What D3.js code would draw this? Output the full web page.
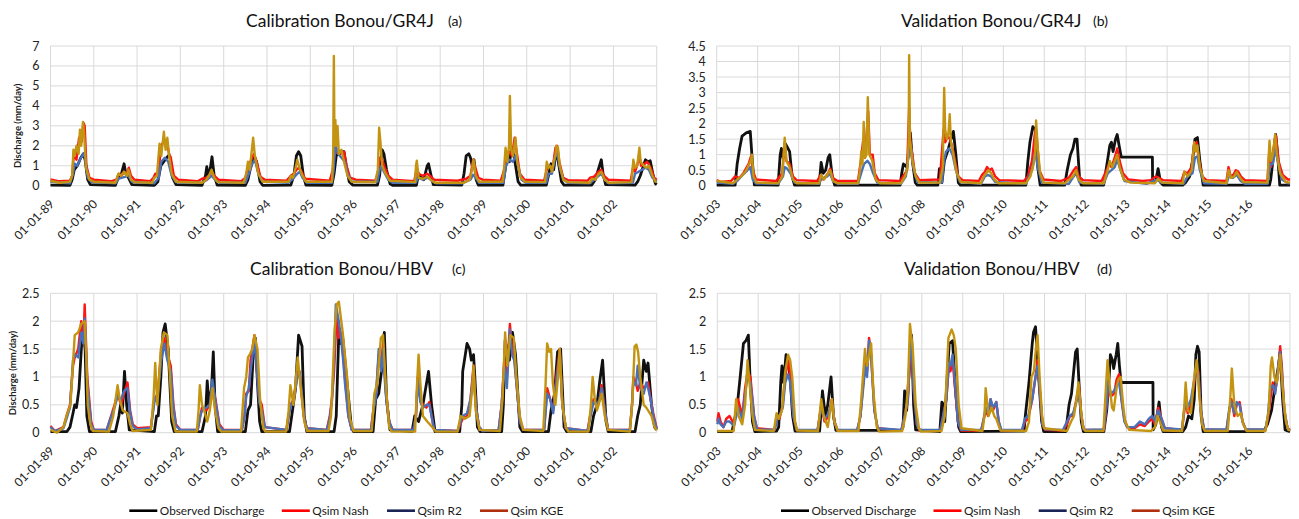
<!DOCTYPE html>
<html>
<head>
<meta charset="utf-8">
<script src="https://cdnjs.cloudflare.com/ajax/libs/d3/7.8.5/d3.min.js"></script>
<style>
  body { margin: 0; background: #fff; }
  svg { display: block; font-family: Lato, "Open Sans", sans-serif; }
</style>
</head>
<body>
<svg id="chart" width="1299" height="519"></svg>
<script>
// [decimal year, discharge mm/day]

// (a) Calibration GR4J
const obsA = [[1989.0,0.03],[1989.45,0.02],[1989.5,0.3],[1989.55,0.8],[1989.62,1.0],[1989.7,1.4],[1989.76,1.6],[1989.8,1.3],[1989.86,0.3],[1989.92,0.05],
  [1990.5,0.02],[1990.58,0.5],[1990.64,0.6],[1990.7,1.1],[1990.74,0.6],[1990.8,0.4],[1990.88,0.05],
  [1991.4,0.02],[1991.48,0.2],[1991.55,1.0],[1991.65,1.3],[1991.72,1.5],[1991.76,1.45],[1991.82,0.4],[1991.9,0.05],
  [1992.5,0.02],[1992.58,0.5],[1992.61,0.95],[1992.66,0.4],[1992.73,1.45],[1992.78,0.5],[1992.85,0.03],
  [1993.5,0.02],[1993.56,0.3],[1993.62,0.9],[1993.7,1.5],[1993.76,1.2],[1993.84,0.2],[1993.9,0.02],
  [1994.55,0.03],[1994.62,0.5],[1994.68,1.5],[1994.73,1.7],[1994.78,1.5],[1994.84,0.5],[1994.9,0.03],
  [1995.5,0.02],[1995.55,0.6],[1995.6,1.5],[1995.68,1.7],[1995.78,1.7],[1995.83,1.0],[1995.9,0.2],[1995.98,0.03],
  [1996.55,0.03],[1996.6,0.5],[1996.66,1.8],[1996.7,1.6],[1996.76,0.8],[1996.84,0.1],[1996.9,0.02],
  [1997.45,0.02],[1997.5,0.6],[1997.56,0.4],[1997.62,0.3],[1997.7,1.0],[1997.73,1.1],[1997.78,0.6],[1997.84,0.05],
  [1998.5,0.03],[1998.55,0.6],[1998.6,1.5],[1998.66,1.6],[1998.7,1.4],[1998.74,1.0],[1998.78,1.3],[1998.83,0.3],[1998.88,0.03],
  [1999.45,0.03],[1999.5,0.8],[1999.56,1.6],[1999.6,1.2],[1999.66,1.9],[1999.72,1.3],[1999.8,0.2],[1999.86,0.03],
  [2000.45,0.03],[2000.52,0.7],[2000.56,1.1],[2000.62,0.8],[2000.68,1.8],[2000.72,1.3],[2000.8,0.2],[2000.86,0.03],
  [2001.5,0.03],[2001.58,0.3],[2001.65,0.8],[2001.72,1.3],[2001.76,0.6],[2001.82,0.05],
  [2002.5,0.03],[2002.56,0.2],[2002.62,0.5],[2002.68,0.9],[2002.74,1.3],[2002.8,1.2],[2002.85,1.25],[2002.92,0.5],[2002.97,0.1],[2003.0,0.05]];
const nashA = [[1989.0,0.32],[1989.2,0.22],[1989.45,0.25],[1989.5,0.5],[1989.54,1.6],[1989.6,1.3],[1989.66,2.4],[1989.72,2.2],[1989.76,3.15],[1989.79,3.0],[1989.83,1.0],[1989.9,0.4],[1990.0,0.3],
  [1990.4,0.22],[1990.52,0.3],[1990.58,0.6],[1990.64,0.5],[1990.7,0.7],[1990.76,0.6],[1990.81,0.9],[1990.86,0.5],[1990.94,0.3],
  [1991.3,0.22],[1991.38,0.4],[1991.42,0.6],[1991.5,0.6],[1991.55,2.0],[1991.62,2.2],[1991.68,2.3],[1991.74,1.6],[1991.78,1.4],[1991.85,0.5],[1991.95,0.3],
  [1992.4,0.22],[1992.5,0.35],[1992.6,0.4],[1992.66,0.5],[1992.72,0.7],[1992.78,0.5],[1992.88,0.3],
  [1993.4,0.22],[1993.5,0.4],[1993.56,0.9],[1993.64,1.3],[1993.7,1.6],[1993.76,1.2],[1993.85,0.45],[1993.95,0.3],
  [1994.45,0.25],[1994.55,0.5],[1994.62,0.6],[1994.68,0.8],[1994.74,0.9],[1994.8,0.7],[1994.88,0.35],
  [1995.45,0.25],[1995.52,0.8],[1995.56,1.6],[1995.62,1.7],[1995.7,1.6],[1995.78,1.7],[1995.84,1.0],[1995.92,0.4],[1996.05,0.3],
  [1996.5,0.25],[1996.56,0.6],[1996.6,1.4],[1996.66,1.3],[1996.72,0.9],[1996.8,0.5],[1996.9,0.3],
  [1997.4,0.22],[1997.46,0.9],[1997.5,0.6],[1997.6,0.5],[1997.7,0.6],[1997.76,0.5],[1997.86,0.3],
  [1998.4,0.25],[1998.6,0.35],[1998.7,0.5],[1998.76,1.3],[1998.8,1.0],[1998.88,0.4],[1998.98,0.3],
  [1999.4,0.25],[1999.48,0.8],[1999.54,1.6],[1999.6,1.7],[1999.66,1.5],[1999.72,2.4],[1999.76,1.8],[1999.84,0.6],[1999.95,0.3],
  [2000.4,0.25],[2000.46,0.8],[2000.52,1.0],[2000.6,0.9],[2000.66,1.9],[2000.7,2.0],[2000.75,1.2],[2000.84,0.4],[2000.95,0.28],
  [2001.4,0.25],[2001.46,0.4],[2001.55,0.45],[2001.65,0.7],[2001.72,0.8],[2001.78,0.5],[2001.88,0.3],
  [2002.4,0.25],[2002.45,0.9],[2002.5,0.7],[2002.56,1.1],[2002.6,1.5],[2002.64,1.0],[2002.72,1.1],[2002.78,1.2],[2002.86,0.9],[2002.94,0.4],[2003.0,0.3]];
const r2A = [[1989.0,0.2],[1989.45,0.12],[1989.52,0.6],[1989.56,1.1],[1989.62,1.0],[1989.68,1.3],[1989.76,1.6],[1989.8,1.4],[1989.86,0.4],[1989.95,0.18],
  [1990.5,0.12],[1990.58,0.35],[1990.66,0.4],[1990.74,0.45],[1990.8,0.5],[1990.88,0.2],
  [1991.4,0.12],[1991.5,0.4],[1991.56,1.2],[1991.64,1.4],[1991.72,1.2],[1991.8,0.5],[1991.9,0.18],
  [1992.5,0.15],[1992.62,0.3],[1992.72,0.5],[1992.8,0.3],[1992.9,0.15],
  [1993.5,0.15],[1993.58,0.6],[1993.66,1.1],[1993.72,1.3],[1993.8,0.6],[1993.9,0.2],
  [1994.5,0.15],[1994.6,0.35],[1994.7,0.6],[1994.76,0.7],[1994.82,0.4],[1994.92,0.15],
  [1995.5,0.15],[1995.54,0.8],[1995.58,2.1],[1995.64,1.6],[1995.72,1.4],[1995.8,1.2],[1995.86,0.6],[1995.96,0.2],
  [1996.55,0.2],[1996.6,0.8],[1996.64,1.0],[1996.7,0.7],[1996.8,0.3],[1996.9,0.15],
  [1997.44,0.15],[1997.48,0.4],[1997.6,0.3],[1997.72,0.4],[1997.8,0.25],[1997.9,0.12],
  [1998.5,0.12],[1998.7,0.3],[1998.76,0.55],[1998.82,0.4],[1998.9,0.15],
  [1999.46,0.15],[1999.52,1.0],[1999.6,1.3],[1999.68,1.2],[1999.74,1.5],[1999.8,1.0],[1999.88,0.3],[1999.98,0.15],
  [2000.45,0.15],[2000.5,0.6],[2000.58,0.6],[2000.66,1.5],[2000.7,1.7],[2000.76,0.9],[2000.85,0.3],[2000.95,0.15],
  [2001.45,0.12],[2001.55,0.3],[2001.66,0.5],[2001.72,0.6],[2001.8,0.3],[2001.9,0.12],
  [2002.45,0.15],[2002.5,0.6],[2002.58,0.7],[2002.66,0.8],[2002.74,0.9],[2002.82,0.8],[2002.9,0.4],[2003.0,0.2]];
const kgeA = [[1989.0,0.25],[1989.2,0.15],[1989.45,0.2],[1989.5,0.5],[1989.53,1.8],[1989.56,1.5],[1989.6,2.0],[1989.65,1.6],[1989.68,2.8],[1989.71,2.0],[1989.75,3.2],[1989.78,2.5],[1989.82,0.9],[1989.9,0.3],[1990.0,0.2],
  [1990.5,0.15],[1990.57,0.6],[1990.63,0.5],[1990.7,0.7],[1990.76,0.5],[1990.8,0.8],[1990.86,0.3],[1990.95,0.18],
  [1991.35,0.15],[1991.4,0.4],[1991.46,0.5],[1991.52,2.1],[1991.56,1.5],[1991.62,2.7],[1991.66,1.8],[1991.7,2.4],[1991.74,1.5],[1991.8,0.6],[1991.9,0.2],
  [1992.5,0.15],[1992.6,0.3],[1992.66,0.5],[1992.72,0.8],[1992.78,0.4],[1992.86,0.18],
  [1993.46,0.15],[1993.52,0.6],[1993.56,1.2],[1993.6,0.8],[1993.66,2.0],[1993.68,2.4],[1993.72,1.5],[1993.8,0.6],[1993.9,0.2],
  [1994.5,0.2],[1994.55,0.5],[1994.6,0.4],[1994.66,0.9],[1994.7,1.3],[1994.75,0.9],[1994.82,0.5],[1994.9,0.2],
  [1995.5,0.2],[1995.53,1.5],[1995.545,6.5],[1995.56,2.0],[1995.58,3.3],[1995.6,2.0],[1995.63,3.0],[1995.66,1.6],[1995.72,1.8],[1995.78,1.2],[1995.86,0.5],[1995.96,0.2],
  [1996.5,0.18],[1996.56,0.8],[1996.59,2.9],[1996.62,2.2],[1996.66,1.0],[1996.74,0.6],[1996.84,0.25],
  [1997.42,0.18],[1997.44,1.0],[1997.46,1.25],[1997.5,0.4],[1997.6,0.35],[1997.7,0.45],[1997.78,0.3],[1997.88,0.15],
  [1998.55,0.15],[1998.68,0.3],[1998.74,0.9],[1998.77,1.3],[1998.82,0.5],[1998.9,0.2],
  [1999.44,0.2],[1999.48,1.0],[1999.51,1.9],[1999.55,1.2],[1999.59,2.0],[1999.61,4.5],[1999.64,1.8],[1999.68,1.5],[1999.74,2.4],[1999.78,1.2],[1999.86,0.4],[1999.96,0.2],
  [2000.42,0.18],[2000.46,1.2],[2000.5,0.9],[2000.54,1.0],[2000.58,0.7],[2000.62,1.2],[2000.66,1.5],[2000.68,2.0],[2000.72,1.9],[2000.76,1.0],[2000.84,0.3],[2000.95,0.18],
  [2001.45,0.15],[2001.5,0.35],[2001.58,0.3],[2001.66,0.6],[2001.72,0.7],[2001.8,0.3],[2001.9,0.15],
  [2002.42,0.18],[2002.46,1.3],[2002.5,0.9],[2002.55,1.0],[2002.6,1.9],[2002.63,1.2],[2002.7,1.0],[2002.76,0.9],[2002.82,1.0],[2002.9,0.5],[2002.97,0.2],[2003.0,0.18]];

// (b) Validation GR4J
const obsB = [[2003.0,0.02],[2003.45,0.02],[2003.5,0.7],[2003.56,1.2],[2003.62,1.6],[2003.72,1.7],[2003.82,1.75],[2003.87,0.8],[2003.92,0.03],
  [2004.5,0.02],[2004.55,1.0],[2004.58,1.2],[2004.62,0.9],[2004.68,1.35],[2004.74,1.2],[2004.78,1.1],[2004.84,0.3],[2004.9,0.02],
  [2005.5,0.02],[2005.55,0.75],[2005.6,0.4],[2005.66,0.5],[2005.72,0.9],[2005.76,1.0],[2005.82,0.3],[2005.88,0.02],
  [2007.48,0.02],[2007.52,0.4],[2007.56,0.7],[2007.64,0.6],[2007.7,1.2],[2007.73,1.7],[2007.78,0.8],[2007.85,0.1],[2007.9,0.02],
  [2008.4,0.02],[2008.44,0.55],[2008.48,0.5],[2008.5,0.1],[2008.56,0.8],[2008.66,1.2],[2008.74,1.6],[2008.78,1.75],[2008.84,1.0],[2008.9,0.1],[2008.95,0.02],
  [2010.55,0.02],[2010.6,0.8],[2010.65,1.4],[2010.72,1.9],[2010.78,1.8],[2010.84,0.6],[2010.9,0.02],
  [2011.5,0.02],[2011.56,0.5],[2011.64,1.0],[2011.7,1.2],[2011.75,1.5],[2011.8,1.5],[2011.86,0.3],[2011.9,0.02],
  [2012.45,0.02],[2012.52,0.6],[2012.6,1.3],[2012.64,1.4],[2012.68,1.1],[2012.74,1.5],[2012.78,1.65],[2012.84,1.2],[2012.88,0.92],[2013.64,0.92],[2013.645,0.1],[2013.72,0.15],[2013.78,0.55],[2013.84,0.1],[2013.9,0.02],
  [2014.38,0.02],[2014.45,0.1],[2014.55,0.3],[2014.62,0.8],[2014.68,1.5],[2014.74,1.55],[2014.8,0.8],[2014.88,0.02],
  [2016.5,0.02],[2016.53,0.2],[2016.6,1.0],[2016.65,1.65],[2016.7,1.0],[2016.75,0.02],[2017.0,0.02]];
const nashB = [[2003.0,0.18],[2003.1,0.12],[2003.35,0.15],[2003.45,0.3],[2003.55,0.25],[2003.65,0.4],[2003.78,0.7],[2003.84,0.95],[2003.88,0.5],[2003.96,0.2],
  [2004.45,0.15],[2004.6,0.4],[2004.66,1.4],[2004.7,0.8],[2004.78,0.7],[2004.86,0.3],[2004.95,0.18],
  [2005.45,0.15],[2005.54,0.35],[2005.6,0.2],[2005.72,0.4],[2005.77,0.55],[2005.84,0.25],[2005.95,0.15],
  [2006.45,0.15],[2006.52,0.8],[2006.58,1.5],[2006.62,0.9],[2006.7,2.4],[2006.74,1.0],[2006.81,1.0],[2006.86,0.4],[2006.95,0.18],
  [2007.48,0.15],[2007.55,0.3],[2007.65,0.5],[2007.7,2.5],[2007.73,1.4],[2007.78,1.0],[2007.84,0.4],[2007.95,0.18],
  [2008.45,0.2],[2008.54,1.8],[2008.58,1.4],[2008.64,1.6],[2008.7,1.5],[2008.76,1.2],[2008.82,0.8],[2008.9,0.3],[2009.0,0.18],
  [2009.4,0.15],[2009.48,0.35],[2009.55,0.45],[2009.6,0.6],[2009.66,0.5],[2009.72,0.55],[2009.8,0.3],[2009.9,0.18],
  [2010.5,0.15],[2010.6,0.3],[2010.7,0.8],[2010.78,1.8],[2010.82,1.5],[2010.88,0.5],[2010.98,0.2],
  [2011.4,0.15],[2011.6,0.25],[2011.72,0.5],[2011.78,0.6],[2011.84,0.3],[2011.95,0.18],
  [2012.4,0.15],[2012.52,0.5],[2012.58,0.7],[2012.64,0.6],[2012.72,0.9],[2012.78,1.2],[2012.84,0.8],[2012.92,0.4],[2013.05,0.2],
  [2013.4,0.15],[2013.6,0.18],[2013.72,0.3],[2013.8,0.25],[2013.9,0.18],
  [2014.35,0.15],[2014.42,0.45],[2014.5,0.4],[2014.6,0.6],[2014.66,1.35],[2014.72,1.4],[2014.78,0.8],[2014.86,0.3],[2014.96,0.18],
  [2015.45,0.15],[2015.5,0.6],[2015.55,0.3],[2015.62,0.35],[2015.68,0.5],[2015.74,0.45],[2015.8,0.3],[2015.9,0.18],
  [2016.45,0.15],[2016.5,1.2],[2016.54,0.6],[2016.58,1.0],[2016.63,1.5],[2016.66,1.6],[2016.72,0.8],[2016.82,0.35],[2016.95,0.2],[2017.0,0.2]];
const r2B = [[2003.0,0.1],[2003.4,0.06],[2003.5,0.15],[2003.6,0.3],[2003.72,0.45],[2003.82,0.6],[2003.88,0.2],[2003.96,0.07],
  [2004.5,0.06],[2004.62,0.3],[2004.66,0.6],[2004.72,0.55],[2004.8,0.4],[2004.9,0.1],
  [2005.5,0.06],[2005.55,0.2],[2005.7,0.3],[2005.76,0.4],[2005.84,0.15],[2005.95,0.06],
  [2006.45,0.06],[2006.55,0.5],[2006.6,0.7],[2006.68,0.8],[2006.74,0.7],[2006.82,0.4],[2006.92,0.1],
  [2007.5,0.06],[2007.62,0.3],[2007.7,1.1],[2007.74,1.3],[2007.8,0.6],[2007.9,0.12],
  [2008.5,0.1],[2008.55,0.8],[2008.6,1.1],[2008.68,1.2],[2008.76,1.0],[2008.84,0.5],[2008.94,0.12],
  [2009.45,0.06],[2009.55,0.3],[2009.62,0.35],[2009.7,0.3],[2009.8,0.12],
  [2010.55,0.06],[2010.7,0.5],[2010.78,1.1],[2010.84,0.6],[2010.94,0.1],
  [2011.6,0.06],[2011.72,0.3],[2011.78,0.4],[2011.86,0.1],
  [2012.45,0.06],[2012.55,0.4],[2012.64,0.5],[2012.72,0.6],[2012.78,0.85],[2012.86,0.5],[2012.96,0.15],
  [2013.5,0.06],[2013.75,0.2],[2013.85,0.1],
  [2014.4,0.06],[2014.5,0.3],[2014.62,0.4],[2014.68,0.9],[2014.74,0.95],[2014.8,0.5],[2014.9,0.08],
  [2015.45,0.06],[2015.52,0.35],[2015.6,0.25],[2015.7,0.35],[2015.8,0.15],[2015.9,0.06],
  [2016.45,0.06],[2016.52,0.7],[2016.58,0.7],[2016.65,1.2],[2016.7,0.8],[2016.8,0.2],[2016.95,0.08],[2017.0,0.08]];
const kgeB = [[2003.0,0.15],[2003.4,0.08],[2003.5,0.2],[2003.6,0.3],[2003.7,0.45],[2003.76,0.6],[2003.83,0.8],[2003.86,1.0],[2003.9,0.3],[2003.97,0.1],
  [2004.5,0.08],[2004.6,0.3],[2004.66,1.55],[2004.7,0.8],[2004.78,0.6],[2004.86,0.2],[2004.95,0.08],
  [2005.5,0.08],[2005.55,0.35],[2005.62,0.2],[2005.72,0.4],[2005.77,0.5],[2005.84,0.15],[2005.95,0.08],
  [2006.45,0.08],[2006.5,0.5],[2006.53,1.1],[2006.56,0.7],[2006.59,2.05],[2006.62,0.9],[2006.66,1.0],[2006.69,2.85],[2006.73,1.0],[2006.8,0.8],[2006.88,0.2],[2006.98,0.08],
  [2007.5,0.08],[2007.6,0.3],[2007.66,0.6],[2007.69,1.5],[2007.7,4.2],[2007.72,1.5],[2007.78,0.8],[2007.86,0.3],[2007.95,0.1],
  [2008.45,0.1],[2008.52,0.6],[2008.555,3.15],[2008.58,1.8],[2008.62,1.5],[2008.66,1.7],[2008.69,2.3],[2008.72,1.4],[2008.78,1.0],[2008.86,0.4],[2008.96,0.12],
  [2009.45,0.08],[2009.52,0.3],[2009.58,0.4],[2009.64,0.5],[2009.7,0.4],[2009.78,0.2],[2009.88,0.08],
  [2010.55,0.08],[2010.66,0.3],[2010.74,0.7],[2010.78,1.1],[2010.8,2.1],[2010.84,1.2],[2010.9,0.4],[2010.98,0.1],
  [2011.5,0.08],[2011.7,0.3],[2011.78,0.5],[2011.84,0.2],[2011.95,0.08],
  [2012.45,0.08],[2012.55,0.5],[2012.6,0.8],[2012.66,0.6],[2012.72,0.8],[2012.78,1.0],[2012.84,0.6],[2012.94,0.2],[2013.1,0.1],
  [2013.7,0.08],[2013.78,0.22],[2013.88,0.1],
  [2014.38,0.08],[2014.42,0.45],[2014.5,0.3],[2014.6,0.5],[2014.66,1.4],[2014.7,1.1],[2014.74,1.3],[2014.8,0.6],[2014.9,0.15],
  [2015.45,0.08],[2015.5,0.5],[2015.56,0.25],[2015.64,0.3],[2015.7,0.45],[2015.76,0.3],[2015.86,0.12],
  [2016.45,0.1],[2016.5,1.45],[2016.54,0.8],[2016.58,1.0],[2016.61,1.3],[2016.64,1.65],[2016.68,1.0],[2016.76,0.4],[2016.9,0.12],[2017.0,0.1]];

// (c) Calibration HBV
const obsC = [[1989.0,0.02],[1989.38,0.02],[1989.45,0.1],[1989.52,0.35],[1989.56,0.5],[1989.6,0.45],[1989.66,0.8],[1989.72,1.6],[1989.76,1.75],[1989.8,1.5],[1989.84,0.3],[1989.9,0.02],
  [1990.5,0.02],[1990.58,0.3],[1990.62,0.5],[1990.66,0.35],[1990.71,1.1],[1990.76,0.5],[1990.82,0.05],
  [1991.4,0.02],[1991.45,0.3],[1991.49,0.3],[1991.55,1.0],[1991.6,1.8],[1991.65,1.95],[1991.72,1.5],[1991.8,0.2],[1991.86,0.02],
  [1992.5,0.02],[1992.58,0.3],[1992.62,0.93],[1992.66,0.5],[1992.72,0.8],[1992.76,1.45],[1992.8,0.5],[1992.86,0.02],
  [1993.5,0.02],[1993.56,0.4],[1993.62,0.5],[1993.69,1.5],[1993.73,1.7],[1993.78,0.9],[1993.83,0.2],[1993.88,0.02],
  [1994.52,0.02],[1994.59,0.4],[1994.66,0.8],[1994.73,1.75],[1994.81,1.55],[1994.86,0.3],[1994.92,0.02],
  [1995.55,0.02],[1995.6,0.3],[1995.66,1.8],[1995.7,1.6],[1995.75,1.7],[1995.8,1.3],[1995.85,0.9],[1995.95,0.1],[1996.0,0.02],
  [1996.45,0.02],[1996.51,0.6],[1996.58,0.7],[1996.66,1.2],[1996.71,1.8],[1996.76,0.6],[1996.84,0.05],
  [1997.35,0.02],[1997.41,0.3],[1997.5,0.2],[1997.6,0.5],[1997.73,1.1],[1997.8,0.5],[1997.88,0.02],
  [1998.45,0.02],[1998.5,0.5],[1998.52,1.1],[1998.62,1.6],[1998.68,1.5],[1998.72,1.3],[1998.77,1.4],[1998.8,1.0],[1998.86,0.1],[1998.92,0.02],
  [1999.42,0.02],[1999.46,0.5],[1999.5,1.65],[1999.6,1.3],[1999.67,1.8],[1999.74,1.4],[1999.84,0.1],[1999.9,0.02],
  [2000.5,0.02],[2000.56,0.4],[2000.64,0.7],[2000.71,1.45],[2000.78,1.5],[2000.86,0.1],[2000.92,0.02],
  [2001.48,0.02],[2001.54,0.3],[2001.62,0.5],[2001.68,0.9],[2001.75,1.3],[2001.83,0.2],[2001.88,0.02],
  [2002.5,0.02],[2002.56,0.3],[2002.62,0.5],[2002.7,1.3],[2002.76,1.1],[2002.8,1.25],[2002.88,0.5],[2002.95,0.1],[2003.0,0.05]];
const nashC = [[1989.0,0.12],[1989.1,0.03],[1989.3,0.1],[1989.37,0.3],[1989.45,0.5],[1989.52,1.2],[1989.56,1.35],[1989.64,1.5],[1989.71,2.0],[1989.76,1.6],[1989.79,2.3],[1989.85,1.0],[1989.94,0.2],[1990.0,0.05],
  [1990.3,0.05],[1990.36,0.2],[1990.48,0.5],[1990.55,0.7],[1990.63,0.5],[1990.7,0.7],[1990.78,0.9],[1990.84,0.4],[1990.9,0.15],[1991.0,0.08],
  [1991.32,0.1],[1991.4,0.6],[1991.48,0.7],[1991.56,1.5],[1991.63,1.7],[1991.7,1.4],[1991.78,1.2],[1991.84,0.5],[1991.9,0.15],[1992.0,0.05],
  [1992.4,0.05],[1992.46,0.3],[1992.5,0.45],[1992.6,0.4],[1992.68,0.5],[1992.74,0.85],[1992.81,0.6],[1992.9,0.15],[1993.0,0.05],
  [1993.42,0.05],[1993.48,0.3],[1993.52,0.7],[1993.58,0.75],[1993.62,1.3],[1993.71,1.75],[1993.76,1.2],[1993.82,0.6],[1993.88,0.5],[1993.95,0.1],
  [1994.45,0.05],[1994.5,0.3],[1994.54,0.5],[1994.62,0.6],[1994.69,1.0],[1994.75,1.1],[1994.8,0.7],[1994.85,0.3],[1994.92,0.08],
  [1995.38,0.05],[1995.45,0.3],[1995.5,0.6],[1995.55,1.1],[1995.61,2.1],[1995.66,1.7],[1995.71,1.8],[1995.76,1.4],[1995.8,1.0],[1995.88,0.3],[1995.96,0.05],
  [1996.4,0.05],[1996.47,0.5],[1996.52,0.7],[1996.58,1.4],[1996.64,1.2],[1996.68,1.6],[1996.74,0.8],[1996.82,0.2],[1996.9,0.05],
  [1997.38,0.05],[1997.44,0.3],[1997.48,1.0],[1997.54,0.6],[1997.6,0.5],[1997.68,0.45],[1997.75,0.55],[1997.8,0.3],[1997.86,0.05],
  [1998.4,0.03],[1998.52,0.25],[1998.62,0.3],[1998.7,0.6],[1998.77,1.2],[1998.82,0.5],[1998.9,0.1],[1998.98,0.03],
  [1999.35,0.05],[1999.42,0.5],[1999.48,1.3],[1999.54,1.0],[1999.61,1.95],[1999.66,1.5],[1999.71,1.4],[1999.76,0.9],[1999.84,0.2],[1999.92,0.05],
  [2000.4,0.05],[2000.47,0.8],[2000.54,0.6],[2000.61,0.4],[2000.68,1.0],[2000.76,1.5],[2000.82,0.5],[2000.9,0.08],
  [2001.4,0.03],[2001.46,0.3],[2001.54,0.6],[2001.62,0.45],[2001.68,0.6],[2001.73,0.85],[2001.8,0.4],[2001.88,0.05],
  [2002.38,0.05],[2002.43,0.5],[2002.46,1.0],[2002.52,0.9],[2002.56,0.75],[2002.62,0.9],[2002.7,0.8],[2002.76,0.85],[2002.8,0.9],[2002.86,0.6],[2002.92,0.35],[2003.0,0.08]];
const r2C = [[1989.0,0.1],[1989.1,0.03],[1989.3,0.08],[1989.37,0.25],[1989.45,0.45],[1989.52,1.3],[1989.56,1.4],[1989.64,1.35],[1989.71,1.8],[1989.76,1.6],[1989.79,2.05],[1989.85,0.9],[1989.94,0.15],[1990.0,0.05],
  [1990.3,0.05],[1990.36,0.2],[1990.48,0.45],[1990.55,0.65],[1990.63,0.6],[1990.7,0.75],[1990.78,0.8],[1990.84,0.35],[1990.9,0.12],[1991.0,0.06],
  [1991.32,0.08],[1991.4,0.55],[1991.48,0.7],[1991.56,1.3],[1991.63,1.6],[1991.7,1.3],[1991.78,1.1],[1991.84,0.45],[1991.9,0.12],[1992.0,0.05],
  [1992.4,0.05],[1992.46,0.3],[1992.5,0.4],[1992.6,0.45],[1992.68,0.5],[1992.74,0.95],[1992.81,0.55],[1992.9,0.12],[1993.0,0.04],
  [1993.42,0.05],[1993.48,0.3],[1993.52,0.65],[1993.58,0.8],[1993.62,1.1],[1993.71,1.65],[1993.76,1.2],[1993.82,0.55],[1993.88,0.4],[1993.95,0.1],
  [1994.45,0.05],[1994.5,0.3],[1994.54,0.45],[1994.62,0.6],[1994.69,0.95],[1994.75,1.1],[1994.8,0.75],[1994.85,0.3],[1994.92,0.08],
  [1995.38,0.05],[1995.45,0.25],[1995.5,0.55],[1995.55,1.3],[1995.59,2.3],[1995.66,2.0],[1995.71,1.7],[1995.76,1.3],[1995.8,0.9],[1995.88,0.3],[1995.96,0.05],
  [1996.4,0.05],[1996.47,0.45],[1996.52,0.65],[1996.58,1.5],[1996.64,1.1],[1996.68,1.5],[1996.74,0.7],[1996.82,0.2],[1996.9,0.05],
  [1997.38,0.05],[1997.44,0.3],[1997.48,0.95],[1997.54,0.55],[1997.6,0.45],[1997.68,0.5],[1997.75,0.5],[1997.8,0.3],[1997.86,0.05],
  [1998.4,0.03],[1998.52,0.3],[1998.62,0.35],[1998.7,0.6],[1998.77,1.1],[1998.82,0.5],[1998.9,0.1],[1998.98,0.03],
  [1999.35,0.05],[1999.42,0.5],[1999.48,1.2],[1999.54,0.8],[1999.61,1.85],[1999.66,1.4],[1999.71,1.3],[1999.76,0.9],[1999.84,0.2],[1999.92,0.05],
  [2000.4,0.05],[2000.47,0.7],[2000.54,0.6],[2000.61,0.35],[2000.68,0.9],[2000.76,1.45],[2000.82,0.5],[2000.9,0.08],
  [2001.4,0.03],[2001.46,0.25],[2001.54,0.55],[2001.62,0.5],[2001.68,0.6],[2001.73,0.8],[2001.8,0.4],[2001.88,0.05],
  [2002.38,0.05],[2002.43,0.5],[2002.46,0.9],[2002.52,0.85],[2002.56,1.2],[2002.62,0.8],[2002.7,0.7],[2002.76,0.9],[2002.8,0.8],[2002.86,0.6],[2002.92,0.3],[2003.0,0.06]];
const kgeC = [[1989.0,0.05],[1989.15,0.0],[1989.3,0.1],[1989.37,0.3],[1989.46,0.5],[1989.5,1.0],[1989.56,1.75],[1989.64,1.8],[1989.71,1.95],[1989.79,2.0],[1989.83,1.3],[1989.86,0.5],[1989.92,0.15],[1989.98,0.03],
  [1990.35,0.02],[1990.45,0.3],[1990.55,0.85],[1990.6,0.6],[1990.67,0.4],[1990.78,0.35],[1990.84,0.15],[1990.9,0.03],
  [1991.32,0.05],[1991.38,0.6],[1991.42,1.25],[1991.47,0.5],[1991.55,1.5],[1991.62,1.8],[1991.7,1.75],[1991.76,1.0],[1991.81,0.3],[1991.89,0.02],
  [1992.38,0.02],[1992.42,0.4],[1992.45,0.85],[1992.5,0.5],[1992.55,0.4],[1992.62,0.2],[1992.68,0.4],[1992.74,0.8],[1992.8,0.4],[1992.88,0.08],[1992.94,0.02],
  [1993.4,0.02],[1993.47,0.8],[1993.52,1.0],[1993.56,1.35],[1993.6,1.4],[1993.66,1.5],[1993.71,1.75],[1993.78,1.5],[1993.84,0.6],[1993.91,0.1],[1993.96,0.02],
  [1994.44,0.02],[1994.5,0.4],[1994.54,0.85],[1994.61,0.5],[1994.66,0.9],[1994.71,1.35],[1994.78,0.8],[1994.86,0.2],[1994.93,0.03],
  [1995.42,0.03],[1995.48,0.3],[1995.53,1.2],[1995.56,1.8],[1995.61,2.3],[1995.66,2.35],[1995.75,1.8],[1995.85,1.0],[1995.92,0.25],[1996.0,0.03],
  [1996.42,0.03],[1996.48,0.7],[1996.55,0.9],[1996.63,1.7],[1996.68,1.75],[1996.74,0.9],[1996.82,0.1],[1996.88,0.02],
  [1997.42,0.02],[1997.46,0.8],[1997.5,1.4],[1997.54,0.9],[1997.6,0.3],[1997.7,0.2],[1997.84,0.08],[1997.9,0.02],
  [1998.4,0.02],[1998.47,0.3],[1998.57,0.25],[1998.68,0.3],[1998.74,0.8],[1998.77,1.2],[1998.82,0.4],[1998.91,0.05],
  [1999.38,0.03],[1999.44,0.6],[1999.5,1.8],[1999.55,1.2],[1999.62,1.75],[1999.7,1.7],[1999.76,1.0],[1999.84,0.3],[1999.92,0.05],
  [2000.38,0.03],[2000.43,0.8],[2000.47,1.6],[2000.52,1.45],[2000.56,1.5],[2000.6,0.9],[2000.66,0.5],[2000.72,1.0],[2000.76,1.5],[2000.82,0.5],[2000.9,0.1],[2000.96,0.02],
  [2001.42,0.02],[2001.48,0.5],[2001.52,1.0],[2001.57,0.6],[2001.62,0.4],[2001.73,0.7],[2001.8,0.3],[2001.88,0.05],
  [2002.38,0.02],[2002.44,0.6],[2002.49,1.55],[2002.53,1.58],[2002.57,1.45],[2002.62,1.0],[2002.7,0.5],[2002.76,0.45],[2002.8,0.4],[2002.88,0.3],[2002.95,0.1],[2003.0,0.04]];

// (d) Validation HBV
const obsD = [[2003.0,0.02],[2003.36,0.02],[2003.44,0.3],[2003.49,0.5],[2003.56,1.0],[2003.64,1.6],[2003.7,1.65],[2003.76,1.75],[2003.8,1.0],[2003.86,0.2],[2003.92,0.02],
  [2004.45,0.03],[2004.5,0.1],[2004.55,0.9],[2004.58,1.2],[2004.62,0.9],[2004.68,1.4],[2004.74,1.2],[2004.78,1.0],[2004.84,0.3],[2004.9,0.03],
  [2005.5,0.03],[2005.57,0.75],[2005.64,0.3],[2005.7,0.5],[2005.78,1.0],[2005.84,0.3],[2005.9,0.04],[2007.5,0.04],
  [2007.54,0.1],[2007.58,0.75],[2007.63,0.4],[2007.7,1.2],[2007.75,1.75],[2007.8,0.5],[2007.85,0.05],
  [2008.44,0.02],[2008.49,0.55],[2008.53,0.5],[2008.56,0.2],[2008.62,1.0],[2008.67,1.6],[2008.75,1.65],[2008.82,0.8],[2008.9,0.1],[2008.95,0.02],
  [2010.5,0.03],[2010.53,0.3],[2010.62,0.9],[2010.7,1.6],[2010.73,1.8],[2010.78,1.9],[2010.84,1.2],[2010.93,0.2],[2010.98,0.02],
  [2011.52,0.02],[2011.6,0.5],[2011.66,0.7],[2011.7,1.0],[2011.76,1.45],[2011.8,1.5],[2011.85,0.8],[2011.9,0.2],[2011.95,0.02],
  [2012.45,0.02],[2012.52,0.4],[2012.58,1.0],[2012.61,1.4],[2012.66,1.3],[2012.69,1.15],[2012.75,1.4],[2012.79,1.6],[2012.83,1.2],[2012.87,0.9],[2013.65,0.9],[2013.655,0.05],[2013.72,0.15],[2013.8,0.55],[2013.86,0.1],[2013.9,0.02],
  [2014.38,0.02],[2014.45,0.1],[2014.52,0.3],[2014.6,0.25],[2014.66,0.6],[2014.7,1.4],[2014.74,1.55],[2014.78,1.45],[2014.83,0.3],[2014.88,0.02],
  [2016.35,0.02],[2016.45,0.15],[2016.55,0.4],[2016.65,0.9],[2016.72,1.2],[2016.76,1.45],[2016.82,0.6],[2016.88,0.05],[2017.0,0.02]];
const nashD = [[2003.0,0.2],[2003.03,0.35],[2003.08,0.2],[2003.15,0.1],[2003.22,0.25],[2003.3,0.3],[2003.41,0.15],[2003.51,0.6],[2003.61,0.3],[2003.68,0.8],[2003.74,1.1],[2003.81,1.0],[2003.9,0.3],[2003.97,0.08],
  [2004.4,0.05],[2004.47,0.3],[2004.52,0.25],[2004.6,0.5],[2004.66,1.0],[2004.73,1.35],[2004.78,1.0],[2004.86,0.3],[2004.94,0.05],
  [2005.45,0.04],[2005.54,0.5],[2005.62,0.2],[2005.72,0.3],[2005.8,0.6],[2005.86,0.2],[2005.94,0.04],
  [2006.42,0.04],[2006.5,0.3],[2006.58,1.0],[2006.62,1.3],[2006.66,1.1],[2006.71,1.7],[2006.76,1.4],[2006.84,0.4],[2006.92,0.08],
  [2007.5,0.04],[2007.58,0.3],[2007.66,0.6],[2007.7,1.2],[2007.74,1.6],[2007.8,0.8],[2007.88,0.15],[2007.95,0.04],
  [2008.45,0.04],[2008.52,0.3],[2008.6,0.6],[2008.66,1.2],[2008.7,1.1],[2008.75,1.3],[2008.8,0.9],[2008.88,0.2],[2008.96,0.04],
  [2009.45,0.04],[2009.5,0.2],[2009.56,0.4],[2009.62,0.3],[2009.68,0.6],[2009.74,0.4],[2009.82,0.55],[2009.88,0.2],[2009.94,0.04],
  [2010.45,0.04],[2010.52,0.2],[2010.6,0.25],[2010.7,0.6],[2010.78,1.0],[2010.83,1.3],[2010.88,0.8],[2010.95,0.15],[2011.02,0.05],
  [2011.45,0.04],[2011.55,0.15],[2011.62,0.3],[2011.7,0.3],[2011.78,0.6],[2011.84,0.85],[2011.9,0.3],[2011.96,0.05],
  [2012.45,0.05],[2012.52,0.5],[2012.56,0.8],[2012.62,0.65],[2012.7,0.7],[2012.76,0.95],[2012.82,1.05],[2012.88,0.6],[2012.95,0.25],[2013.02,0.1],
  [2013.2,0.08],[2013.33,0.15],[2013.45,0.12],[2013.55,0.2],[2013.63,0.25],[2013.7,0.15],[2013.78,0.45],[2013.86,0.25],[2013.94,0.08],
  [2014.36,0.05],[2014.42,0.4],[2014.45,0.6],[2014.5,0.35],[2014.58,0.5],[2014.66,0.9],[2014.72,1.15],[2014.76,1.1],[2014.82,0.4],[2014.9,0.06],
  [2015.45,0.05],[2015.52,0.4],[2015.57,0.6],[2015.64,0.3],[2015.7,0.5],[2015.77,0.55],[2015.84,0.2],[2015.92,0.06],
  [2016.4,0.05],[2016.46,0.25],[2016.52,0.6],[2016.58,0.9],[2016.64,0.75],[2016.7,1.0],[2016.76,1.55],[2016.8,1.2],[2016.86,0.4],[2016.94,0.08],[2017.0,0.05]];
const r2D = [[2003.0,0.15],[2003.03,0.25],[2003.08,0.15],[2003.15,0.1],[2003.22,0.2],[2003.3,0.2],[2003.41,0.12],[2003.51,0.45],[2003.61,0.25],[2003.68,0.7],[2003.74,1.0],[2003.81,0.9],[2003.9,0.3],[2003.97,0.06],
  [2004.4,0.05],[2004.47,0.25],[2004.52,0.3],[2004.6,0.45],[2004.66,0.9],[2004.73,1.05],[2004.78,0.9],[2004.86,0.3],[2004.94,0.05],
  [2005.45,0.05],[2005.54,0.45],[2005.62,0.25],[2005.72,0.35],[2005.8,0.55],[2005.86,0.2],[2005.94,0.05],
  [2006.42,0.05],[2006.5,0.3],[2006.58,0.9],[2006.62,1.2],[2006.66,1.0],[2006.71,1.65],[2006.76,1.35],[2006.84,0.4],[2006.92,0.08],
  [2007.5,0.05],[2007.58,0.3],[2007.66,0.6],[2007.7,1.3],[2007.74,1.7],[2007.8,0.8],[2007.88,0.15],[2007.95,0.05],
  [2008.45,0.05],[2008.52,0.3],[2008.6,0.6],[2008.66,1.25],[2008.7,1.2],[2008.75,1.4],[2008.8,1.0],[2008.88,0.2],[2008.96,0.05],
  [2009.45,0.05],[2009.5,0.2],[2009.56,0.45],[2009.62,0.35],[2009.68,0.6],[2009.74,0.45],[2009.82,0.55],[2009.88,0.2],[2009.94,0.05],
  [2010.45,0.05],[2010.52,0.25],[2010.6,0.3],[2010.7,0.6],[2010.78,1.0],[2010.83,1.2],[2010.88,0.8],[2010.95,0.15],[2011.02,0.06],
  [2011.45,0.05],[2011.55,0.2],[2011.62,0.3],[2011.7,0.35],[2011.78,0.55],[2011.84,0.7],[2011.9,0.3],[2011.96,0.05],
  [2012.45,0.06],[2012.52,0.55],[2012.56,0.9],[2012.62,0.7],[2012.7,0.75],[2012.76,0.85],[2012.82,0.9],[2012.88,0.6],[2012.95,0.2],[2013.02,0.1],
  [2013.2,0.1],[2013.33,0.2],[2013.45,0.15],[2013.55,0.25],[2013.63,0.3],[2013.7,0.2],[2013.78,0.4],[2013.86,0.25],[2013.94,0.08],
  [2014.36,0.06],[2014.42,0.45],[2014.45,0.55],[2014.5,0.45],[2014.58,0.6],[2014.66,0.95],[2014.72,1.15],[2014.76,1.05],[2014.82,0.4],[2014.9,0.06],
  [2015.45,0.06],[2015.52,0.45],[2015.57,0.55],[2015.64,0.35],[2015.7,0.55],[2015.77,0.5],[2015.84,0.2],[2015.92,0.06],
  [2016.4,0.06],[2016.46,0.3],[2016.52,0.8],[2016.58,0.85],[2016.64,0.7],[2016.7,1.1],[2016.76,1.45],[2016.8,1.1],[2016.86,0.4],[2016.94,0.08],[2017.0,0.05]];
const kgeD = [[2003.0,0.03],[2003.4,0.03],[2003.46,0.6],[2003.52,0.3],[2003.61,0.15],[2003.68,0.5],[2003.74,1.3],[2003.8,0.8],[2003.86,0.3],[2003.92,0.05],
  [2004.38,0.03],[2004.45,0.35],[2004.5,0.25],[2004.58,0.4],[2004.66,1.1],[2004.73,1.4],[2004.78,1.3],[2004.83,1.0],[2004.9,0.2],[2004.95,0.04],
  [2005.46,0.03],[2005.54,0.6],[2005.6,0.3],[2005.7,0.1],[2005.8,0.6],[2005.86,0.2],[2005.95,0.03],
  [2006.45,0.03],[2006.52,0.6],[2006.58,1.2],[2006.61,1.5],[2006.66,1.2],[2006.71,1.4],[2006.76,1.6],[2006.82,0.7],[2006.9,0.1],[2006.96,0.02],
  [2007.52,0.03],[2007.6,0.3],[2007.66,0.8],[2007.71,1.95],[2007.75,1.7],[2007.78,1.5],[2007.85,0.5],[2007.93,0.08],[2007.98,0.02],
  [2008.48,0.03],[2008.56,0.3],[2008.6,0.9],[2008.65,1.7],[2008.73,1.85],[2008.78,1.75],[2008.83,1.5],[2008.9,0.5],[2008.97,0.08],
  [2009.48,0.03],[2009.53,0.3],[2009.56,0.8],[2009.63,0.3],[2009.71,0.45],[2009.77,0.3],[2009.82,0.25],[2009.92,0.04],
  [2010.55,0.03],[2010.62,0.2],[2010.68,1.0],[2010.74,1.1],[2010.8,1.6],[2010.83,1.75],[2010.88,1.0],[2010.94,0.3],[2010.99,0.08],
  [2011.55,0.03],[2011.65,0.2],[2011.72,0.3],[2011.78,0.6],[2011.83,0.9],[2011.88,0.5],[2011.94,0.1],[2012.0,0.03],
  [2012.44,0.03],[2012.5,0.8],[2012.54,1.3],[2012.6,0.8],[2012.65,0.45],[2012.69,0.4],[2012.76,0.8],[2012.8,0.95],[2012.86,1.0],[2012.92,0.5],[2012.97,0.2],[2013.07,0.05],
  [2013.6,0.03],[2013.7,0.1],[2013.76,0.3],[2013.82,0.2],[2013.9,0.04],
  [2014.36,0.03],[2014.42,0.5],[2014.45,0.9],[2014.5,0.4],[2014.58,0.35],[2014.66,1.0],[2014.72,1.3],[2014.78,0.7],[2014.85,0.15],[2014.92,0.03],
  [2015.48,0.03],[2015.54,0.6],[2015.58,1.15],[2015.64,0.5],[2015.72,0.3],[2015.8,0.35],[2015.86,0.15],[2015.94,0.03],
  [2016.4,0.03],[2016.48,0.4],[2016.53,1.2],[2016.56,1.35],[2016.62,1.0],[2016.68,0.9],[2016.76,1.4],[2016.82,0.8],[2016.9,0.2],[2016.96,0.05],[2017.0,0.04]];

const yTicksGR4Jcal = [0, 1, 2, 3, 4, 5, 6, 7];
const yTicksGR4Jval = [0, 0.5, 1, 1.5, 2, 2.5, 3, 3.5, 4, 4.5];
const yTicksHBV = [0, 0.5, 1, 1.5, 2, 2.5];
const seriesNames = ["Observed Discharge", "Qsim Nash", "Qsim R2", "Qsim KGE"];
const lineColors = ["#111111", "#ff1414", "#4a70b8", "#c39411"];
const legendColors = ["#000000", "#ff0000", "#1b2456", "#b0300e"];

const panels = [
  { title: "Calibration Bonou/GR4J", tag: "(a)", tx: 246, gx: 448, ty: 27, x0: 50.5, x1: 656.7, y0: 46, y1: 185.7,
    start: 1989, ticks: yTicksGR4Jcal, series: [obsA, nashA, r2A, kgeA], ylab: 18 },
  { title: "Validation Bonou/GR4J", tag: "(b)", tx: 901, gx: 1093, ty: 27, x0: 716.7, x1: 1290, y0: 46, y1: 185.7,
    start: 2003, ticks: yTicksGR4Jval, series: [obsB, nashB, r2B, kgeB] },
  { title: "Calibration Bonou/HBV", tag: "(c)", tx: 250, gx: 452, ty: 275, x0: 50.5, x1: 656.7, y0: 293.3, y1: 432.7,
    start: 1989, ticks: yTicksHBV, series: [obsC, nashC, r2C, kgeC], ylab: 13 },
  { title: "Validation Bonou/HBV", tag: "(d)", tx: 904, gx: 1097, ty: 275, x0: 717.3, x1: 1290, y0: 293.3, y1: 432.7,
    start: 2003, ticks: yTicksHBV, series: [obsD, nashD, r2D, kgeD] }
];

const svg = d3.select("#chart");
const fmt = d3.timeFormat("%d-%m-%y");

function toDate(t) {
  const yr = Math.floor(t);
  const a = new Date(yr, 0, 1), b = new Date(yr + 1, 0, 1);
  return new Date(a.getTime() + (t - yr) * (b - a));
}

panels.forEach(p => {
  const g = svg.append("g");
  const x = d3.scaleTime().domain([new Date(p.start, 0, 1), new Date(p.start + 14, 0, 1)]).range([p.x0, p.x1]);
  const y = d3.scaleLinear().domain([0, d3.max(p.ticks)]).range([p.y1, p.y0]);
  const years = d3.timeYear.range(new Date(p.start, 0, 1), new Date(p.start + 15, 0, 1));

  // gridlines
  g.append("g").selectAll("line").data(p.ticks).join("line")
    .attr("x1", p.x0).attr("x2", p.x1)
    .attr("y1", d => y(d)).attr("y2", d => y(d))
    .attr("stroke", "#d9d9d9").attr("stroke-width", 1);
  g.append("g").selectAll("line").data(years).join("line")
    .attr("x1", d => x(d)).attr("x2", d => x(d))
    .attr("y1", p.y0).attr("y2", p.y1)
    .attr("stroke", "#d9d9d9").attr("stroke-width", 1);

  // axes
  const ya = g.append("g").attr("transform", `translate(${p.x0},0)`)
    .call(d3.axisLeft(y).tickValues(p.ticks).tickSize(0).tickPadding(11).tickFormat(d3.format("")));
  ya.select(".domain").remove();
  ya.attr("font-family", null).attr("font-size", 12.5);
  ya.selectAll("text").attr("fill", "#222");

  const xa = g.append("g").attr("transform", `translate(0,${p.y1})`)
    .call(d3.axisBottom(x).tickValues(years.slice(0, 14)).tickSize(0).tickFormat(fmt));
  xa.select(".domain").remove();
  xa.attr("font-family", null).attr("font-size", 12);
  xa.selectAll("text")
    .attr("y", 0).attr("dy", 0)
    .attr("text-anchor", "end")
    .attr("fill", "#222")
    .attr("transform", "translate(4,19) rotate(-45)");

  // series
  const line = d3.line().x(d => x(toDate(d[0]))).y(d => y(d[1]));
  p.series.forEach((s, i) => {
    g.append("path").datum(s)
      .attr("d", line)
      .attr("fill", "none")
      .attr("stroke", lineColors[i])
      .attr("stroke-width", i === 0 ? 2.8 : 2.4)
      .attr("stroke-linejoin", "round");
  });

  // titles
  g.append("text").attr("x", p.tx).attr("y", p.ty)
    .attr("font-size", 17.5).attr("fill", "#111").text(p.title);
  g.append("text").attr("x", p.gx).attr("y", p.ty - 1)
    .attr("font-size", 14).attr("fill", "#111").text(p.tag);

  if (p.ylab) {
    g.append("text")
      .attr("transform", `translate(${p.ylab},${(p.y0 + p.y1) / 2 + 10}) rotate(-90)`)
      .attr("text-anchor", "middle").attr("dy", "0.35em")
      .attr("font-size", 9.5).attr("font-weight", 700).attr("fill", "#222")
      .text("Discharge (mm/day)");
  }
});

// legends
const legendOffsets = [0, 152.5, 257.7, 350.7];
[129.3, 781].forEach(lx => {
  const lg = svg.append("g").attr("transform", `translate(${lx},510.7)`);
  seriesNames.forEach((name, i) => {
    lg.append("line")
      .attr("x1", legendOffsets[i]).attr("x2", legendOffsets[i] + 28)
      .attr("y1", 0).attr("y2", 0)
      .attr("stroke", legendColors[i]).attr("stroke-width", 2.6);
    lg.append("text")
      .attr("x", legendOffsets[i] + 30.5).attr("y", 0).attr("dy", "0.35em")
      .attr("font-size", 11.8).attr("fill", "#1a1a1a").text(name);
  });
});
</script>
</body>
</html>
